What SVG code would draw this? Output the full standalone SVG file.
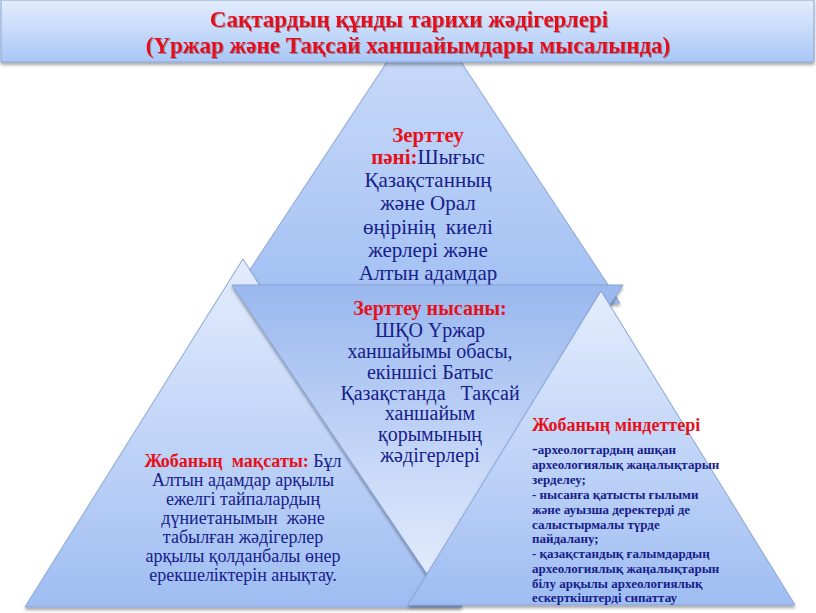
<svg xmlns="http://www.w3.org/2000/svg" width="816" height="613" viewBox="0 0 816 613">
<defs>
<linearGradient id="gTitle" x1="0" y1="0" x2="0" y2="1"><stop offset="0" stop-color="#e3edfd"/><stop offset="1" stop-color="#a9c7f6"/></linearGradient>
<linearGradient id="gTop" x1="0" y1="0" x2="0" y2="1"><stop offset="0" stop-color="#cfdefa"/><stop offset="1" stop-color="#a2c0f3"/></linearGradient>
<linearGradient id="gUp" x1="0" y1="0" x2="0" y2="1"><stop offset="0" stop-color="#e4edfd"/><stop offset="1" stop-color="#9fbdf2"/></linearGradient>
<linearGradient id="gDown" x1="0" y1="0" x2="0" y2="1"><stop offset="0" stop-color="#9ab8ef"/><stop offset="1" stop-color="#e2ebfc"/></linearGradient>
<filter id="sh" x="-10%" y="-10%" width="120%" height="125%"><feDropShadow dx="0" dy="2.5" stdDeviation="1.5" flood-color="#000" flood-opacity="0.35"/></filter>
<filter id="tsh" x="-5%" y="-20%" width="110%" height="140%"><feDropShadow dx="1" dy="1" stdDeviation="0.6" flood-color="#000" flood-opacity="0.3"/></filter>
</defs>
<style>
.shape{stroke:#86a3d6;stroke-width:1;}
text{font-family:"Liberation Serif","Times New Roman",serif;white-space:pre;}
.ttl{font-size:23px;font-weight:bold;fill:#e5111b;}
.red{fill:#e5111b;font-weight:bold;}
.blue{fill:#16208a;}
.t21{font-size:21px;text-anchor:middle;}
.t20{font-size:20px;text-anchor:middle;}
.t18{font-size:18px;text-anchor:middle;}
.t13{font-size:13px;font-weight:bold;fill:#16208a;}
</style>
<rect width="816" height="613" fill="#ffffff"/>
<g id="top">
<polygon class="shape" points="424,6 620,303 228,303" fill="url(#gTop)" filter="url(#sh)"/>
<text class="t21" x="428" y="142"><tspan class="red">Зерттеу</tspan></text>
<text class="t21" x="428" y="164"><tspan class="red">пәні:</tspan><tspan class="blue">Шығыс</tspan></text>
<text class="t21 blue" x="428" y="187">Қазақстанның</text>
<text class="t21 blue" x="428" y="210">және Орал</text>
<text class="t21 blue" x="428" y="234">өңірінің  киелі</text>
<text class="t21 blue" x="428" y="257">жерлері және</text>
<text class="t21 blue" x="428" y="280">Алтын адамдар</text>
</g>
<g id="title">
<rect class="shape" x="1" y="0" width="813" height="62" fill="url(#gTitle)" filter="url(#sh)"/>
<g filter="url(#tsh)">
<text class="ttl" x="409" y="27" text-anchor="middle">Сақтардың құнды тарихи жәдігерлері</text>
<text class="ttl" x="408" y="53" text-anchor="middle">(Үржар және Тақсай ханшайымдары мысалында)</text>
</g>
</g>
<g id="left">
<polygon class="shape" points="243,259 462,607 25,607" fill="url(#gUp)" filter="url(#sh)"/>
<text class="t18" x="243" y="467"><tspan class="red">Жобаның  мақсаты:</tspan><tspan class="blue"> Бұл</tspan></text>
<text class="t18 blue" x="243" y="486">Алтын адамдар арқылы</text>
<text class="t18 blue" x="243" y="505">ежелгі тайпалардың</text>
<text class="t18 blue" x="243" y="524">дүниетанымын  және</text>
<text class="t18 blue" x="243" y="543">табылған жәдігерлер</text>
<text class="t18 blue" x="243" y="562">арқылы қолданбалы өнер</text>
<text class="t18 blue" x="243" y="581">ерекшеліктерін анықтау.</text>
</g>
<g id="middle">
<polygon class="shape" points="232,285 623,285 427,574" fill="url(#gDown)" filter="url(#sh)"/>
<text class="t20 red" x="430" y="315">Зерттеу нысаны:</text>
<text class="t20 blue" x="430" y="337">ШҚО Үржар</text>
<text class="t20 blue" x="430" y="358">ханшайымы обасы,</text>
<text class="t20 blue" x="430" y="379">екіншісі Батыс</text>
<text class="t20 blue" x="430" y="400">Қазақстанда   Тақсай</text>
<text class="t20 blue" x="430" y="420">ханшайым</text>
<text class="t20 blue" x="430" y="441">қорымының</text>
<text class="t20 blue" x="430" y="462">жәдігерлері</text>
</g>
<g id="right">
<polygon class="shape" points="601,291 795,605 408,605" fill="url(#gUp)" filter="url(#sh)"/>
<text class="red" x="532" y="431" font-size="18">Жобаның міндеттері</text>
<text class="t13" x="532" y="454"><tspan font-size="17">-</tspan>археологтардың ашқан</text>
<text class="t13" x="532" y="469">археологиялық жаңалықтарын</text>
<text class="t13" x="532" y="484">зерделеу;</text>
<text class="t13" x="532" y="499">- нысанға қатысты ғылыми</text>
<text class="t13" x="532" y="514">және ауызша деректерді де</text>
<text class="t13" x="532" y="529">салыстырмалы түрде</text>
<text class="t13" x="532" y="543">пайдалану;</text>
<text class="t13" x="532" y="558">- қазақстандық ғалымдардың</text>
<text class="t13" x="532" y="573">археологиялық жаңалықтарын</text>
<text class="t13" x="532" y="588">білу арқылы археологиялық</text>
<text class="t13" x="532" y="602">ескерткіштерді сипаттау</text>
</g>
</svg>
